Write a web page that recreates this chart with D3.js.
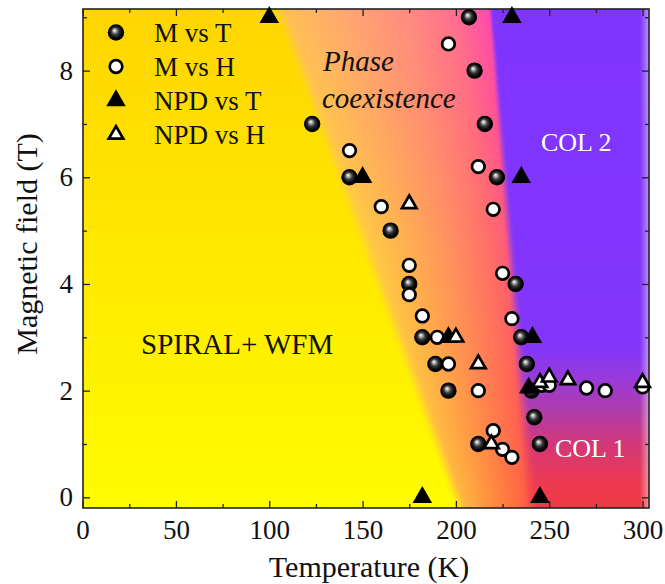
<!DOCTYPE html>
<html>
<head>
<meta charset="utf-8">
<script src="https://cdn.jsdelivr.net/npm/d3@7"></script>
<style>
  body { margin: 0; background: #fff; }
  svg { display: block; }
  text { font-family: "Liberation Serif", "Times New Roman", serif; }
</style>
</head>
<body>
<svg width="665" height="584"></svg>
<script>
// [temperature (K), field (T)]
const mVsT = [
  [207, 9], [210, 8], [215.5, 7], [123, 7], [143, 6], [222, 6], [165, 5],
  [175, 4], [232, 4], [182, 3], [235, 3], [189, 2.5], [238, 2.5], [196, 2],
  [240.5, 2], [242, 1.5], [212, 1], [245, 1]
];
const mVsH = [
  [196, 8.5], [143, 6.5], [212, 6.2], [160, 5.45], [220, 5.4], [175, 4.35],
  [175, 3.8], [225, 4.2], [182, 3.4], [230, 3.35], [190, 3], [196, 2.5],
  [212, 2], [246, 2.1], [250, 2.1], [270, 2.05], [280, 2], [300, 2.07],
  [220, 1.25], [225, 0.9], [230, 0.75]
];
const npdVsT = [
  [100, 9], [230, 9], [150, 6], [235, 6], [196, 3], [241, 3], [239, 2.05],
  [182, 0], [245, 0]
];
const npdVsH = [
  [175, 5.5], [200, 3], [212, 2.5], [245, 2.15], [250, 2.25], [260, 2.2],
  [300, 2.15], [219, 1]
];

const xTicks = [0, 50, 100, 150, 200, 250, 300];
const xMinor = [25, 75, 125, 175, 225, 275];
const yTicks = [0, 2, 4, 6, 8];
const yMinor = [1, 3, 5, 7, 9];
const legendLabels = ['M vs T', 'M vs H', 'NPD vs T', 'NPD vs H'];

// phase boundaries as [field, temperature]
const spiralEdge = [[0, 198], [9, 105]];
const colEdge = [[0, 240], [9, 219]];

const svg = d3.select('svg');
const plot = { left: 83, right: 649, top: 9, bottom: 508 };

const x = d3.scaleLinear().domain([0, 303.5]).range([82.6, 649.1]);
const y = d3.scaleLinear().domain([-0.2, 9.155]).range([508, 9]);

// numeric colour ramp, faster than string interpolators per pixel
function ramp(domain, colors) {
  const c = colors.map(function(s) {
    const k = d3.rgb(s);
    return [k.r, k.g, k.b];
  });
  return function(v) {
    if (v <= domain[0]) return c[0];
    for (let i = 1; i < domain.length; i++) {
      if (v <= domain[i]) {
        const t = (v - domain[i - 1]) / (domain[i] - domain[i - 1]);
        return mix(c[i - 1], c[i], t);
      }
    }
    return c[c.length - 1];
  };
}
function mix(a, b, t) {
  return [a[0] + (b[0] - a[0]) * t, a[1] + (b[1] - a[1]) * t, a[2] + (b[2] - a[2]) * t];
}
function smooth(e0, e1, v) {
  const t = Math.max(0, Math.min(1, (v - e0) / (e1 - e0)));
  return t * t * (3 - 2 * t);
}

const edge1 = d3.scaleLinear().domain(spiralEdge.map(d => d[0])).range(spiralEdge.map(d => d[1]));
const edge2 = d3.scaleLinear().domain(colEdge.map(d => d[0])).range(colEdge.map(d => d[1]));

const yellow = ramp([0, 4.7, 9.2], ['#fffb00', '#ffe800', '#ffd500']);
const fStops = [0, 0.3, 0.6, 0.85, 1];
const coexTop = ramp(fStops, ['#ffc352', '#ffa870', '#ff8c80', '#ff6c92', '#ff48b0']);
const coexMid = ramp(fStops, ['#ffd040', '#ffb050', '#ff9060', '#ff7068', '#ff5a78']);
const coexBot = ramp(fStops, ['#ffc440', '#ffa240', '#ff8240', '#ff6a42', '#ff5a44']);
const colour = ramp([-0.2, 0.3, 1, 1.6, 2.2, 2.8, 9.2],
  ['#f23a46', '#ec3a52', '#d23878', '#b03ca8', '#9a3ad8', '#8236fa', '#7f34ff']);

// background phase map, painted on a canvas and placed as an image
(function() {
  const w = plot.right - plot.left, h = plot.bottom - plot.top;
  const canvas = document.createElement('canvas');
  canvas.width = w;
  canvas.height = h;
  const ctx = canvas.getContext('2d');
  const img = ctx.createImageData(w, h);
  for (let j = 0; j < h; j++) {
    const py = plot.top + j + 0.5;
    const H = y.invert(py);
    const p1 = x(edge1(H)), p2 = x(edge2(H));
    const yc = yellow(H);
    const cc = colour(H);
    const w2 = 3 + 6 * (1 - Math.max(0, Math.min(1, H / 9)));
    for (let i = 0; i < w; i++) {
      const px = plot.left + i + 0.5;
      const f = Math.max(0, Math.min(1, (px - p1) / (p2 - p1)));
      let co;
      if (H > 4.7) co = mix(coexMid(f), coexTop(f), Math.min(1, (H - 4.7) / 4.45));
      else co = mix(coexBot(f), coexMid(f), Math.max(0, H / 4.7));
      let c = mix(yc, co, smooth(-4, 12, px - p1));
      c = mix(c, cc, smooth(-w2, w2, px - p2));
      const fade = Math.max(0, (px - 640) / 9) * 0.45;
      c = mix(c, [255, 255, 255], Math.min(0.45, fade));
      const k = (j * w + i) * 4;
      img.data[k] = c[0];
      img.data[k + 1] = c[1];
      img.data[k + 2] = c[2];
      img.data[k + 3] = 255;
    }
  }
  ctx.putImageData(img, 0, 0);
  svg.append('image')
    .attr('x', plot.left).attr('y', plot.top)
    .attr('width', w).attr('height', h)
    .attr('href', canvas.toDataURL());
})();

// shaded ball for M vs T
const defs = svg.append('defs');
const ball = defs.append('radialGradient').attr('id', 'ball')
  .attr('cx', 0.5).attr('cy', 0.5).attr('r', 0.5)
  .attr('fx', 0.4).attr('fy', 0.36);
ball.append('stop').attr('offset', 0).attr('stop-color', '#ffffff');
ball.append('stop').attr('offset', 0.14).attr('stop-color', '#c8c8c8');
ball.append('stop').attr('offset', 0.45).attr('stop-color', '#3a3a3a');
ball.append('stop').attr('offset', 0.8).attr('stop-color', '#000000');

// axes with inward ticks on all four sides
function tickAxis(axis, values, size, labels) {
  return axis.tickValues(values).tickSize(-size)
    .tickFormat(labels ? d3.format('d') : '');
}
const axes = svg.append('g');
axes.append('g').attr('transform', 'translate(0,' + plot.bottom + ')')
  .call(tickAxis(d3.axisBottom(x), xTicks, 7, true).tickPadding(12));
axes.append('g').attr('transform', 'translate(0,' + plot.bottom + ')')
  .call(tickAxis(d3.axisBottom(x), xMinor, 4, false));
axes.append('g').attr('transform', 'translate(0,' + plot.top + ')')
  .call(tickAxis(d3.axisTop(x), xTicks, 7, false));
axes.append('g').attr('transform', 'translate(0,' + plot.top + ')')
  .call(tickAxis(d3.axisTop(x), xMinor, 4, false));
axes.append('g').attr('transform', 'translate(' + plot.left + ',0)')
  .call(tickAxis(d3.axisLeft(y), yTicks, 7, true).tickPadding(10));
axes.append('g').attr('transform', 'translate(' + plot.left + ',0)')
  .call(tickAxis(d3.axisLeft(y), yMinor, 4, false));
axes.append('g').attr('transform', 'translate(' + plot.right + ',0)')
  .call(tickAxis(d3.axisRight(y), yTicks, 7, false));
axes.append('g').attr('transform', 'translate(' + plot.right + ',0)')
  .call(tickAxis(d3.axisRight(y), yMinor, 4, false));
axes.selectAll('.domain').remove();
axes.selectAll('.tick line').attr('stroke', '#222').attr('stroke-width', 1.3);
axes.selectAll('.tick text')
  .attr('font-family', '"Liberation Serif", serif')
  .attr('font-size', 27).attr('fill', '#111');

svg.append('rect')
  .attr('x', plot.left).attr('y', plot.top)
  .attr('width', plot.right - plot.left).attr('height', plot.bottom - plot.top)
  .attr('fill', 'none').attr('stroke', '#222').attr('stroke-width', 1.6);

// region labels
const notes = svg.append('g');
notes.append('text').attr('x', 323).attr('y', 71).text('Phase')
  .attr('font-style', 'italic').attr('font-size', 29).attr('fill', '#111');
notes.append('text').attr('x', 322).attr('y', 108).text('coexistence')
  .attr('font-style', 'italic').attr('font-size', 29).attr('fill', '#111');
notes.append('text').attr('x', 541).attr('y', 151).text('COL 2')
  .attr('font-size', 26).attr('fill', '#fff');
notes.append('text').attr('x', 555).attr('y', 457).text('COL 1')
  .attr('font-size', 26).attr('fill', '#fff');
notes.append('text').attr('x', 141).attr('y', 354).text('SPIRAL+ WFM')
  .attr('font-size', 29).attr('fill', '#111');

// markers
const tri = d3.symbol().type(d3.symbolTriangle);
const marks = svg.append('g');
function place(d) {
  return 'translate(' + x(d[0]) + ',' + y(d[1]) + ')';
}
const styles = [
  function(sel) { sel.append('circle').attr('r', 8.2).attr('fill', 'url(#ball)'); },
  function(sel) {
    sel.append('circle').attr('r', 6.3).attr('fill', '#fff')
      .attr('stroke', '#000').attr('stroke-width', 2.7);
  },
  function(sel) { sel.append('path').attr('d', tri.size(165)()).attr('fill', '#000'); },
  function(sel) {
    sel.append('path').attr('d', tri.size(92)()).attr('fill', '#fff')
      .attr('stroke', '#000').attr('stroke-width', 2.7);
  },
];
[mVsT, mVsH, npdVsT, npdVsH].forEach(function(series, k) {
  marks.append('g').selectAll('g').data(series).join('g')
    .attr('transform', place)
    .call(styles[k]);
});

// legend
const legend = svg.append('g');
legendLabels.forEach(function(label, k) {
  const row = legend.append('g').attr('transform', 'translate(116,' + (32.5 + k * 34) + ')');
  row.append('g').call(styles[k]);
  row.append('text').attr('x', 38).attr('y', 9.5).text(label)
    .attr('font-size', 27).attr('fill', '#111');
});

// axis titles
svg.append('text').attr('x', 369).attr('y', 577).attr('text-anchor', 'middle')
  .attr('font-size', 30).attr('fill', '#111').text('Temperature (K)');
svg.append('text').attr('transform', 'translate(37,244) rotate(-90)')
  .attr('text-anchor', 'middle').attr('font-size', 30).attr('fill', '#111')
  .text('Magnetic field (T)');
</script>
</body>
</html>
